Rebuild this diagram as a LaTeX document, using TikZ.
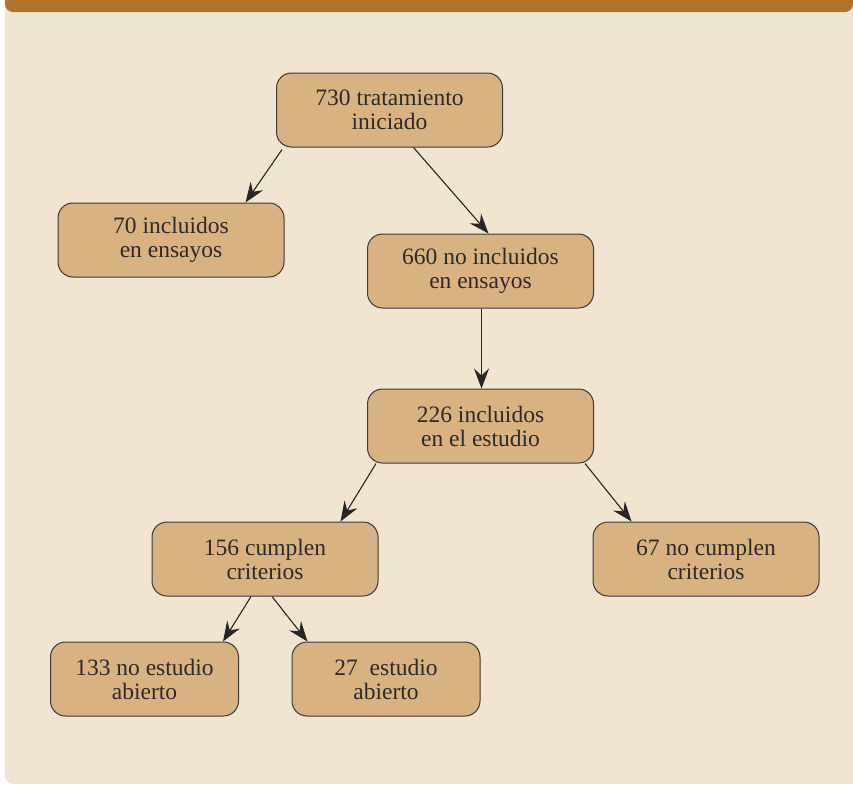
\documentclass[tikz,border=0pt]{standalone}
\usepackage{fontspec}
\setmainfont{Liberation Serif}
\usetikzlibrary{arrows.meta}
\definecolor{barra}{HTML}{B5722F}
\definecolor{fondo}{HTML}{F1E4D1}
\definecolor{relleno}{HTML}{D8B281}
\definecolor{borde}{HTML}{3A3A3A}
\definecolor{texto}{HTML}{2B2B2B}
\begin{document}
\begin{tikzpicture}[x=1pt, y=-1pt,
  caja/.style={draw=borde, fill=relleno, line width=1pt, rounded corners=15pt,
    minimum width=226pt, minimum height=74pt, align=center, text=texto,
    font=\fontsize{23.5}{24}\selectfont, inner sep=0pt},
  cajita/.style={caja, minimum width=188pt},
  flecha/.style={draw=black!85, line width=1.1pt, -{Stealth[length=20pt, width=15pt, inset=7pt]}}]

\useasboundingbox (0,0) rectangle (853,785);
\fill[fondo, rounded corners=8pt] (5,-20) rectangle (863,784);
\fill[barra, rounded corners=8pt] (5,-20) rectangle (853,12);

\node[caja] (730) at (389.5,110) {730 tratamiento\\iniciado};
\node[caja] (70) at (171,240) {70 incluidos\\en ensayos};
\node[caja] (660) at (480.5,271) {660 no incluidos\\en ensayos};
\node[caja] (226) at (480.5,426) {226 incluidos\\en el estudio};
\node[caja] (156) at (265,559) {156 cumplen\\criterios};
\node[caja] (67) at (706,559) {67 no cumplen\\criterios};
\node[cajita] (133) at (144.5,679) {133 no estudio\\abierto};
\node[cajita] (27) at (386,679) {27\ \ estudio\\abierto};

\draw[flecha] ([xshift=6pt, yshift=-2pt]730.south west) -- ([xshift=-39pt]70.north east);
\draw[flecha] ([xshift=24pt]730.south) -- ([xshift=8pt]660.north);
\draw[flecha] ([xshift=1pt]660.south) -- ([xshift=1pt]226.north);
\draw[flecha] ([xshift=9pt]226.south west) -- ([xshift=-38pt]156.north east);
\draw[flecha] ([xshift=-9pt]226.south east) -- ([xshift=39pt]67.north west);
\draw[flecha] ([xshift=-14pt]156.south) -- ([xshift=-16pt]133.north east);
\draw[flecha] ([xshift=7pt]156.south) -- ([xshift=16pt]27.north west);

\end{tikzpicture}
\end{document}
